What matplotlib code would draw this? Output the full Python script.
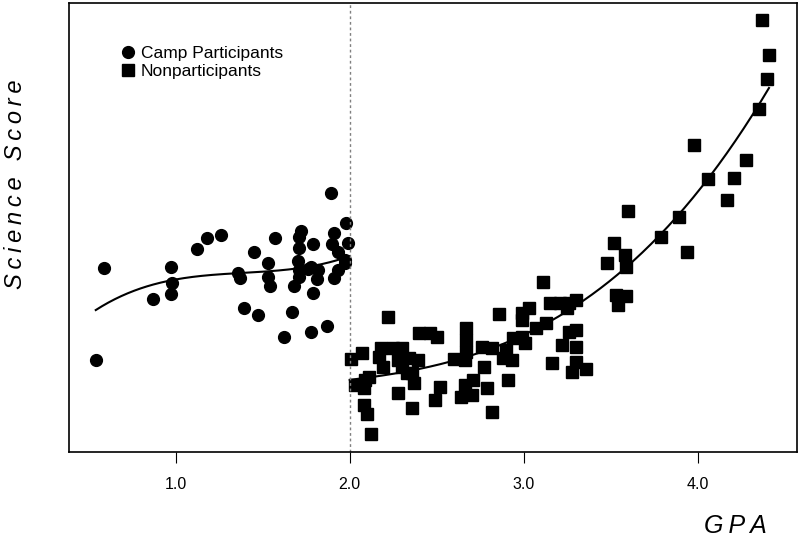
import numpy as np
import matplotlib.pyplot as plt

# camp participants (circles)
camp_gpa = [0.54, 0.59, 0.87, 0.97, 0.98, 0.97, 1.12, 1.18, 1.26, 1.36, 1.37, 1.39,
            1.47, 1.45, 1.57, 1.53, 1.53, 1.54, 1.62, 1.67, 1.72, 1.71, 1.71, 1.70,
            1.71, 1.71, 1.68, 1.79, 1.78, 1.82, 1.81, 1.79, 1.78, 1.87, 1.89, 1.91,
            1.90, 1.93, 1.97, 1.93, 1.91, 1.98, 1.99, 1.97, 1.76]
camp_score = [28.0, 46.4, 40.2, 46.6, 43.4, 41.2, 50.2, 52.4, 53.0, 45.4, 44.4, 38.4,
              37.0, 49.6, 52.4, 47.4, 44.6, 42.8, 32.6, 37.6, 53.8, 52.6, 50.4, 47.8,
              46.0, 44.6, 42.8, 51.2, 46.6, 46.0, 44.2, 41.4, 33.6, 34.8, 61.4, 53.4,
              51.2, 49.6, 48.0, 46.0, 44.4, 55.4, 51.4, 47.4, 46.2]

# nonparticipants (squares)
non_gpa = [2.01, 2.07, 2.03, 2.09, 2.11, 2.08, 2.08, 2.10, 2.12, 2.18, 2.19, 2.22,
           2.25, 2.30, 2.17, 2.28, 2.30, 2.34, 2.39, 2.33, 2.36, 2.37, 2.28, 2.36,
           2.40, 2.46, 2.50, 2.49, 2.52, 2.60, 2.67, 2.67, 2.67, 2.66, 2.66, 2.64,
           2.70, 2.71, 2.76, 2.82, 2.77, 2.79, 2.82, 2.86, 2.90, 2.88, 2.93, 2.91,
           2.94, 2.99, 3.01, 2.99, 2.99, 3.03, 3.07, 3.13, 3.11, 3.15, 3.21, 3.26,
           3.30, 3.26, 3.30, 3.22, 3.30, 3.16, 3.30, 3.28, 3.36, 3.52, 3.58, 3.48,
           3.59, 3.53, 3.59, 3.54, 3.60, 3.79, 3.89, 3.94, 3.98, 4.06, 4.21, 4.17,
           4.28, 4.35, 4.40, 4.41, 4.37, 3.25]
non_score = [28.2, 29.4, 23.0, 24.0, 24.6, 22.4, 19.0, 17.2, 13.2, 30.4, 26.6, 36.6,
             30.4, 30.4, 28.6, 28.0, 26.6, 28.4, 28.0, 25.4, 25.4, 23.4, 21.4, 18.4,
             33.4, 33.4, 32.6, 20.0, 22.6, 28.2, 34.4, 32.0, 29.6, 28.0, 23.0, 20.6,
             21.0, 24.0, 30.6, 30.4, 26.6, 22.4, 17.6, 37.2, 30.0, 28.4, 28.0, 24.0,
             32.4, 32.6, 31.4, 36.0, 37.4, 38.4, 34.4, 35.4, 43.6, 39.4, 39.4, 39.4,
             40.0, 33.6, 34.0, 31.0, 30.6, 27.4, 27.6, 25.6, 26.2, 51.4, 49.0, 47.4,
             46.6, 41.0, 40.8, 39.0, 57.8, 52.6, 56.6, 49.6, 71.0, 64.2, 64.4, 60.0,
             68.0, 78.2, 84.2, 89.0, 96.0, 38.4]

# fitted trend lines
fit_camp_gpa = [0.54, 0.98, 1.37, 1.71, 2.00]
fit_camp_score = [38.0, 44.0, 45.4, 46.4, 48.8]
fit_non_gpa = [2.00, 2.57, 2.63, 3.15, 3.38, 3.60, 3.90, 4.30, 4.41]
fit_non_score = [24.0, 27.6, 28.4, 35.4, 40.6, 47.4, 57.4, 76.0, 82.6]

cutoff = 2.0
spaced = lambda s: '\u2009'.join(s)
lab_font = ['Liberation Sans', 'DejaVu Sans']

fig = plt.figure(figsize=(8, 5.4), dpi=100)
ax = fig.add_axes([0.086, 0.163, 0.91, 0.831])

ax.plot(camp_gpa, camp_score, 'o', color='black', ms=8.5, ls='none', label='Camp Participants')
ax.plot(non_gpa, non_score, 's', color='black', ms=8.5, ls='none', label='Nonparticipants')

# smooth cubic through the read trend values on each side
for fx, fy in [(fit_camp_gpa, fit_camp_score), (fit_non_gpa, fit_non_score)]:
    p = np.polyfit(fx, fy, 3)
    xs = np.linspace(min(fx), max(fx), 200)
    ax.plot(xs, np.polyval(p, xs), color='black', lw=1.5)

ax.axvline(cutoff, color='gray', ls=(0, (2, 2)), lw=1)

ax.set_xlim(0.385, 4.57)
ax.set_ylim(9.6, 99.4)
ax.set_xticks([1.0, 2.0, 3.0, 4.0])
ax.set_xticklabels(['1.0', '2.0', '3.0', '4.0'], fontsize=11.5, family='Liberation Sans')
ax.tick_params(axis='x', direction='out', length=8, pad=10)
ax.set_yticks([])
for s in ax.spines.values():
    s.set_linewidth(1.2)

fig.text(0.019, 0.659, spaced('Science Score'), rotation=90, ha='center', va='center',
         fontsize=17, style='italic', family=lab_font)
fig.text(0.919, 0.026, spaced('GPA'), ha='center', va='center',
         fontsize=18, style='italic', family=lab_font)

ax.legend(loc='upper left', bbox_to_anchor=(0.045, 0.94), frameon=False,
          prop={'family': 'Liberation Sans', 'size': 12.5},
          handletextpad=0.15, labelspacing=0.15, handlelength=1.2)

fig.savefig('out.png', dpi=100)
